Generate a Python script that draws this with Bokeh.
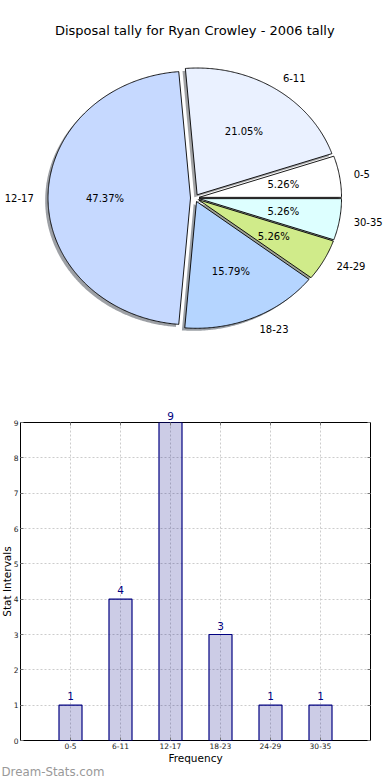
import numpy as np
from bokeh.plotting import figure
from bokeh.models import (ColumnDataSource, FixedTicker, LabelSet,
                          LinearAxis, Range1d, Title)
from bokeh.embed import file_html
from bokeh.resources import INLINE
from bokeh.core.properties import value

# ---------------- data ----------------
chart_title = "Disposal tally for Ryan Crowley - 2006 tally"
categories = ["0-5", "6-11", "12-17", "18-23", "24-29", "30-35"]
counts = [1, 4, 9, 3, 1, 1]
pie_colors = ["#FFFFFF", "#EAF1FF", "#C6D9FF", "#B5D5FF", "#D0EB8A", "#DDFFFF"]
explode = [0.03, 0.03, 0.03, 0.03, 0.03, 0.03]
x_label = "Frequency"
y_label = "Stat Intervals"
y_ticks = [0, 1, 2, 3, 4, 5, 6, 7, 8, 9]
watermark = "Dream-Stats.com"

FONT_NAME = "DejaVu Sans"
FONT = value(FONT_NAME)

# ---------------- pie ----------------
pie = figure(width=390, height=380, x_range=Range1d(-1.3635, 1.3733),
             y_range=Range1d(-1.4393, 1.5576), output_backend="svg",
             toolbar_location=None, min_border=0, outline_line_color=None,
             x_axis_location=None, y_axis_location=None)
pie.grid.visible = False

total = float(sum(counts))
frac = np.array(counts) / total
ends = np.cumsum(frac) * 360.0
starts = ends - frac * 360.0

xs, ys, sxs, sys_, shadow_cols = [], [], [], [], []
lab_x, lab_y, lab_align, pct_x, pct_y, pct_txt = [], [], [], [], [], []
for s, e, ex, col, f in zip(starts, ends, explode, pie_colors, frac):
    m = np.radians((s + e) / 2.0)
    cx, cy = ex * np.cos(m), ex * np.sin(m)
    t = np.radians(np.linspace(s, e, max(int(e - s), 4) * 2))
    px = np.concatenate([[cx], cx + np.cos(t)])
    py = np.concatenate([[cy], cy + np.sin(t)])
    xs.append(list(px))
    ys.append(list(py))
    sxs.append(list(px - 0.02))
    sys_.append(list(py - 0.02))
    rgb = [int(col[i:i + 2], 16) for i in (1, 3, 5)]
    shadow_cols.append("#%02x%02x%02x" % tuple(int(0.3 * c) for c in rgb))
    xt = cx + 1.1 * np.cos(m)
    yt = cy + 1.1 * np.sin(m)
    lab_x.append(xt)
    lab_y.append(yt)
    lab_align.append("left" if xt > 0 else "right")
    pct_x.append(cx + 0.6 * np.cos(m))
    pct_y.append(cy + 0.6 * np.sin(m))
    pct_txt.append("%.2f%%" % (f * 100))

pie.patches(xs=sxs, ys=sys_, fill_color=shadow_cols, fill_alpha=0.5,
            line_color=None)
pie.patches(xs=xs, ys=ys, fill_color=pie_colors, line_color="black",
            line_width=0.9)

lab_src = ColumnDataSource(dict(x=lab_x, y=lab_y, t=categories, a=lab_align))
pie.text(x="x", y="y", text="t", text_align="a", text_baseline="middle",
         text_font=FONT, text_font_size="10px", text_color="black",
         source=lab_src)
pct_src = ColumnDataSource(dict(x=pct_x, y=pct_y, t=pct_txt))
pie.text(x="x", y="y", text="t", text_align="center", text_baseline="middle",
         text_font=FONT, text_font_size="10px", text_color="black",
         source=pct_src)
pie.text(x=[0], y=[1.321], text=[chart_title], text_align="center",
         text_baseline="middle", text_font=FONT, text_font_size="13px",
         text_color="black")

# ---------------- bar ----------------
xpos = list(range(len(categories)))
y_max = y_ticks[-1]
bar = figure(width=390, height=400, x_range=Range1d(-1, len(categories)),
             y_range=Range1d(0, y_max), output_backend="svg",
             toolbar_location=None, min_border_left=19, min_border_right=20,
             min_border_top=42, min_border_bottom=40,
             outline_line_color="black", outline_line_width=1)

xt_ticker = FixedTicker(ticks=xpos)
yt_ticker = FixedTicker(ticks=y_ticks)

bar.xaxis.ticker = xt_ticker
bar.yaxis.ticker = yt_ticker
bar.xaxis.major_label_overrides = {i: c for i, c in zip(xpos, categories)}
for ax in (bar.xaxis, bar.yaxis):
    ax.axis_line_color = None
    ax.major_tick_in = 3
    ax.major_tick_out = 0
    ax.minor_tick_line_color = None
    ax.major_tick_line_color = "#777777"
    ax.major_label_text_font = FONT_NAME
    ax.major_label_text_font_size = "7.5px"
    ax.major_label_text_color = "#222222"
    ax.major_label_standoff = 2
    ax.axis_label_text_font = FONT_NAME
    ax.axis_label_text_font_size = "10.5px"
    ax.axis_label_text_font_style = "normal"
    ax.axis_label_text_color = "black"
bar.xaxis.axis_label = x_label
bar.xaxis.axis_label_standoff = 0

# y-axis title, placed outside the tick labels
bar.add_layout(Title(text=y_label, align="center", standoff=-4,
                     text_font=FONT_NAME, text_font_size="10.5px",
                     text_font_style="normal", text_color="black"), "left")

# value labels of bars that reach the top of the frame sit above it
top_labels = {x: (str(c) if c >= y_max else "") for x, c in zip(xpos, counts)}
top_ax = LinearAxis(ticker=xt_ticker, axis_line_color=None, major_tick_in=3,
                    major_tick_out=0, minor_tick_line_color=None,
                    major_tick_line_color="#777777",
                    major_label_overrides=top_labels,
                    major_label_text_color="#000080",
                    major_label_text_font=FONT_NAME,
                    major_label_text_font_size="10.5px",
                    major_label_standoff=3)
right_ax = LinearAxis(ticker=yt_ticker, axis_line_color=None, major_tick_in=3,
                      major_tick_out=0, minor_tick_line_color=None,
                      major_tick_line_color="#777777",
                      major_label_overrides={t: "" for t in y_ticks})
bar.add_layout(top_ax, "above")
bar.add_layout(right_ax, "right")

bar.xgrid.ticker = xt_ticker
bar.ygrid.ticker = yt_ticker
bar.grid.grid_line_color = "#cccccc"
bar.grid.grid_line_dash = "2 2"
bar.grid.grid_line_width = 1

inside = [c < y_max for c in counts]
bsrc = ColumnDataSource(dict(x=xpos, top=counts,
                             lab=[str(c) if i else "" for c, i in zip(counts, inside)]))
bar.vbar(x="x", top="top", width=0.46, source=bsrc, fill_color="navy",
         fill_alpha=0.2, line_color="navy", line_width=1.2)
bar.add_layout(LabelSet(x="x", y="top", text="lab", source=bsrc,
                        text_align="center", text_baseline="bottom",
                        y_offset=5, text_font=FONT, text_font_size="10.5px",
                        text_color="#000080"))

bar.add_layout(Title(text=watermark, align="left", offset=-19, standoff=-7,
                     text_font=FONT_NAME, text_font_size="11.8px",
                     text_font_style="normal", text_color="#999999"), "below")

open("out.html", "w").write(file_html([pie, bar], INLINE))
